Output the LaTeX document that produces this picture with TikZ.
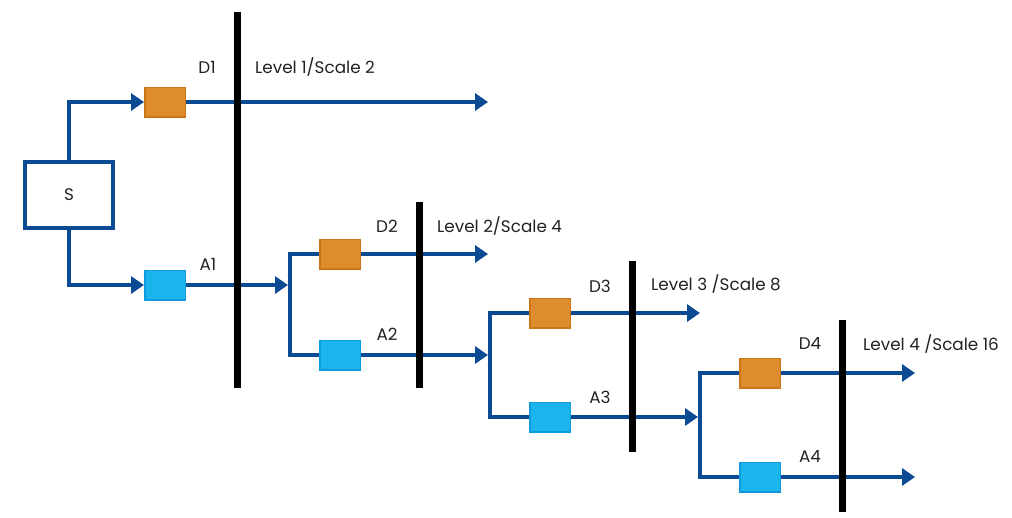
\documentclass[tikz,border=0pt]{standalone}
\usepackage{fontspec}
\setmainfont{Poppins}
\usetikzlibrary{arrows.meta}
\definecolor{lineblue}{HTML}{0C4A93}
\definecolor{dorange}{HTML}{DE8D2E}
\definecolor{dorangeE}{HTML}{CA7414}
\definecolor{ablue}{HTML}{1CB4EC}
\definecolor{ablueE}{HTML}{0E9ADE}
\definecolor{txt}{HTML}{222222}
\begin{document}
\begin{tikzpicture}[x=1pt,y=-1pt,
  flow/.style={draw=lineblue, line width=4.5pt},
  tip/.style={-{Triangle[length=13pt,width=17pt]}},
  dbox/.style={rectangle, minimum width=40.5pt, minimum height=29.5pt, inner sep=0pt, fill=dorange, draw=dorangeE, line width=1.5pt},
  abox/.style={rectangle, minimum width=40.5pt, minimum height=29.5pt, inner sep=0pt, fill=ablue, draw=ablueE, line width=1.5pt},
  srcbox/.style={rectangle, draw=lineblue, line width=4.5pt, fill=white, minimum width=88pt, minimum height=66pt, inner sep=0pt},
  levelline/.style={draw=black, line width=7pt},
  lab/.style={font=\fontsize{16.8}{20}\selectfont, text=txt, inner sep=0pt, anchor=base},
  lvl/.style={font=\fontsize{16.8}{20}\selectfont, text=txt, inner sep=0pt, anchor=base west}
]
\useasboundingbox (0,0) rectangle (1012,517);
\fill[white] (0,0) rectangle (1012,517);

% nodes
\node[srcbox, font=\fontsize{16.8}{20}\selectfont, text=txt] (S) at (69,195) {S};
\node[dbox] (D1) at (165,102) {};
\node[abox] (A1) at (165,285) {};
\node[dbox] (D2) at (340,254) {};
\node[abox] (A2) at (340,355) {};
\node[dbox] (D3) at (550,313) {};
\node[abox] (A3) at (550,417) {};
\node[dbox] (D4) at (760,373) {};
\node[abox] (A4) at (760,477) {};

% junctions and free ends
\coordinate (J2) at (290,285);
\coordinate (J3) at (490,355);
\coordinate (J4) at (700,417);
\coordinate (E1) at (488,102);
\coordinate (E2) at (488,254);
\coordinate (E3) at (700,313);
\coordinate (E4) at (915,373);
\coordinate (E5) at (915,477);

% level lines ends
\coordinate (L1t) at (237,12);  \coordinate (L1b) at (237,388);
\coordinate (L2t) at (419,202); \coordinate (L2b) at (419,388);
\coordinate (L3t) at (632,261); \coordinate (L3b) at (632,452);
\coordinate (L4t) at (842,320); \coordinate (L4b) at (842,512);

% flows
\draw[flow,tip] (S.north) |- (D1.west);
\draw[flow,tip] (S.south) |- (A1.west);
\draw[flow,tip] (D1.east) -- (E1);
\draw[flow,tip,shorten >=2pt] (A1.east) -- (J2);
\draw[flow] (D2.west) -| (J2) |- (A2.west);
\draw[flow,tip] (D2.east) -- (E2);
\draw[flow,tip,shorten >=2pt] (A2.east) -- (J3);
\draw[flow] (D3.west) -| (J3) |- (A3.west);
\draw[flow,tip] (D3.east) -- (E3);
\draw[flow,tip,shorten >=2pt] (A3.east) -- (J4);
\draw[flow] (D4.west) -| (J4) |- (A4.west);
\draw[flow,tip] (D4.east) -- (E4);
\draw[flow,tip] (A4.east) -- (E5);

% level lines
\draw[levelline] (L1t) -- (L1b);
\draw[levelline] (L2t) -- (L2b);
\draw[levelline] (L3t) -- (L3b);
\draw[levelline] (L4t) -- (L4b);

% labels
\node[lab] (tD1) at (207,73) {D1};
\node[lab] (tA1) at (208,270) {A1};
\node[lab] (tD2) at (387,232) {D2};
\node[lab] (tA2) at (387,340) {A2};
\node[lab] (tD3) at (600,292) {D3};
\node[lab] (tA3) at (600,403) {A3};
\node[lab] (tD4) at (810,349) {D4};
\node[lab] (tA4) at (810,462) {A4};
\node[lvl] (v1) at (255,73) {Level 1/Scale 2};
\node[lvl] (v2) at (437,232) {Level 2/Scale 4};
\node[lvl] (v3) at (651,290) {Level 3 /Scale 8};
\node[lvl] (v4) at (863,350) {Level 4 /Scale 16};
\end{tikzpicture}
\end{document}
